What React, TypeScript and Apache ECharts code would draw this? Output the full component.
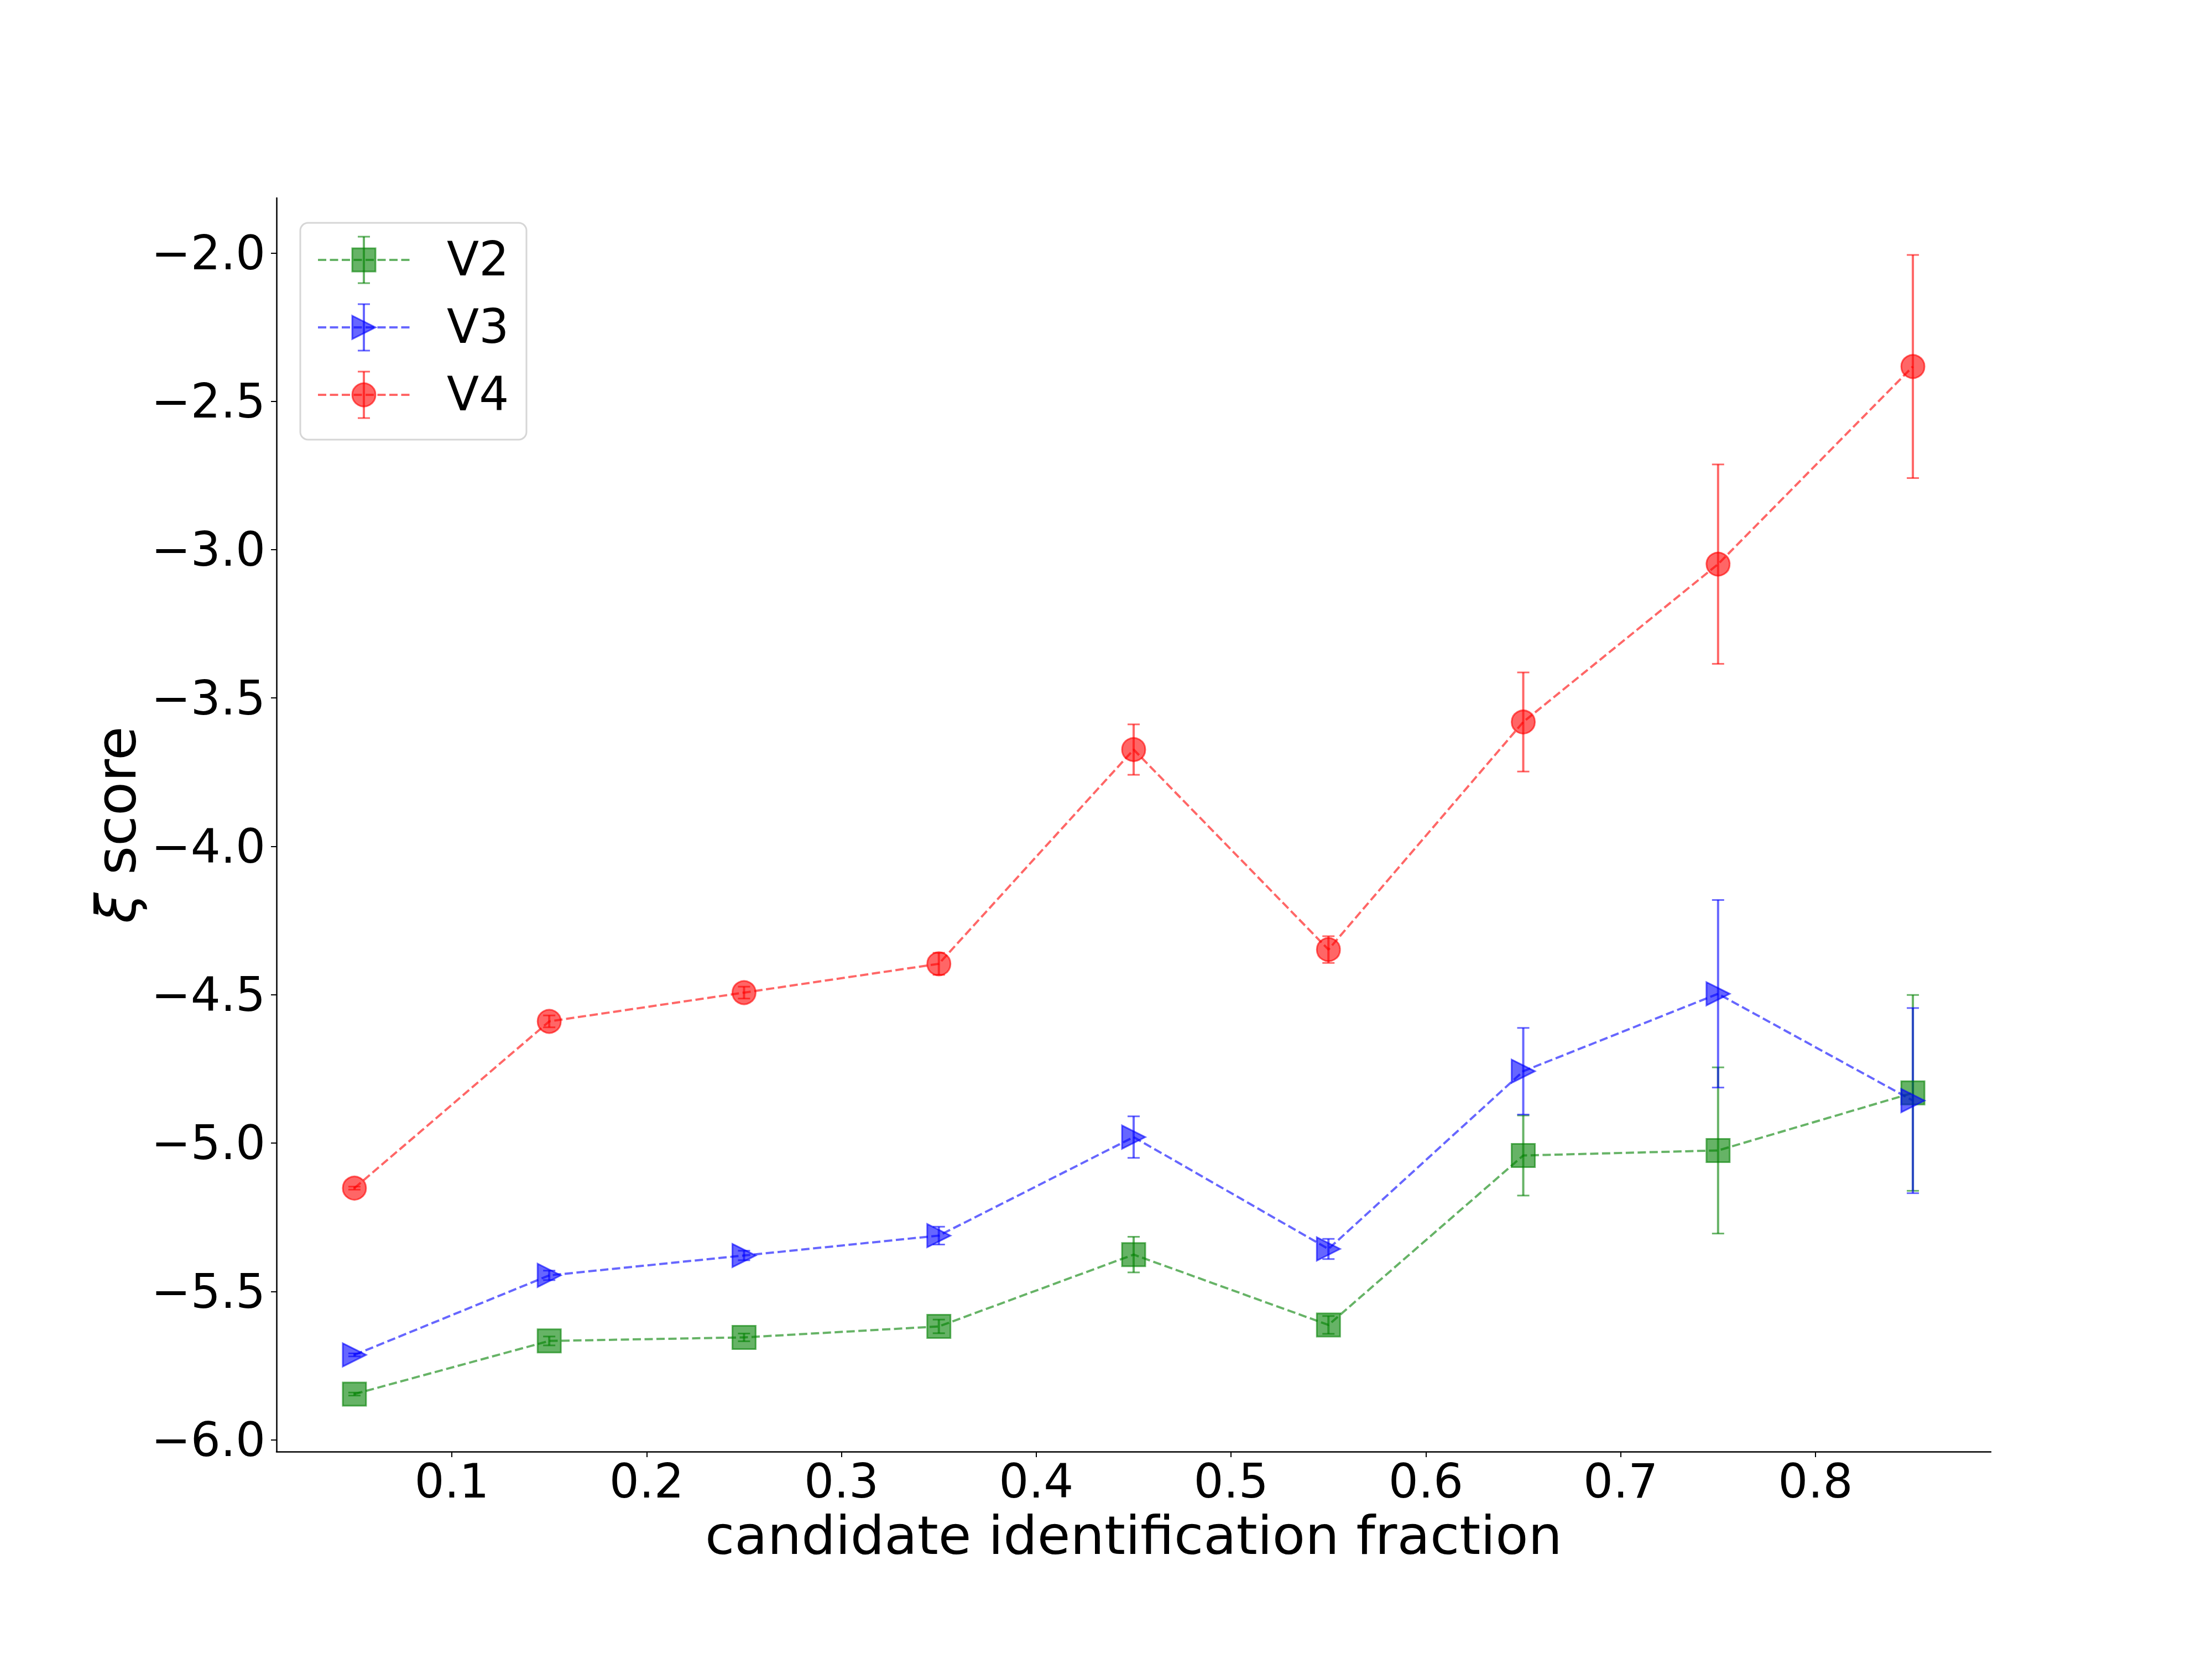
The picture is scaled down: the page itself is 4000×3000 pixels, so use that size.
import React, { useEffect, useRef } from "react";
import * as echarts from "echarts";

const xs = [0.05, 0.15, 0.25, 0.35, 0.45, 0.55, 0.65, 0.75, 0.85];
const v2 = [-5.846, -5.667, -5.655, -5.618, -5.376, -5.613, -5.042, -5.025, -4.831];
const v2Err = [0.005, 0.015, 0.013, 0.023, 0.06, 0.03, 0.135, 0.28, 0.33];
const v3 = [-5.714, -5.446, -5.379, -5.312, -4.98, -5.357, -4.758, -4.497, -4.857];
const v3Err = [0.005, 0.016, 0.016, 0.03, 0.07, 0.034, 0.146, 0.316, 0.312];
const v4 = [-5.152, -4.59, -4.493, -4.396, -3.674, -4.348, -3.581, -3.049, -2.383];
const v4Err = [0.005, 0.02, 0.02, 0.037, 0.085, 0.045, 0.167, 0.336, 0.376];

const seriesNames = ["V2", "V3", "V4"];
const xTicks = [0.1, 0.2, 0.3, 0.4, 0.5, 0.6, 0.7, 0.8];
const yTicks = [-6.0, -5.5, -5.0, -4.5, -4.0, -3.5, -3.0, -2.5, -2.0];

const FONT = '"DejaVu Sans", sans-serif';

const seriesDefs = [
  { name: seriesNames[0], values: v2, errs: v2Err, rgb: "0,128,0", symbol: "rect", rotate: 0 },
  { name: seriesNames[1], values: v3, errs: v3Err, rgb: "0,0,255", symbol: "triangle", rotate: -90 },
  { name: seriesNames[2], values: v4, errs: v4Err, rgb: "255,0,0", symbol: "circle", rotate: 0 },
];

const MS = 42;
const LW = 4;
const DASH = [15, 6.5];

function buildOption() {
  const series: any[] = [];
  seriesDefs.forEach((d) => {
    const col = `rgba(${d.rgb},0.6)`;
    series.push({
      type: "line",
      name: d.name,
      data: xs.map((x, i) => [x, d.values[i]]),
      symbol: d.symbol,
      symbolSize: MS,
      symbolRotate: d.rotate,
      showSymbol: true,
      showAllSymbol: true,
      lineStyle: { color: col, width: LW, type: DASH },
      itemStyle: { color: col, borderColor: col, borderWidth: 3, opacity: 1 },
      emphasis: { disabled: true },
    });
    series.push({
      type: "custom",
      name: d.name + "-err",
      data: xs.map((x, i) => [x, d.values[i] - d.errs[i], d.values[i] + d.errs[i]]),
      encode: { x: 0, y: [1, 2] },
      renderItem: (params: any, api: any) => {
        const x = api.value(0);
        const lo = api.value(1);
        const hi = api.value(2);
        const pt = api.coord([x, hi]);
        const pb = api.coord([x, lo]);
        const st = { stroke: col, lineWidth: LW };
        const cw = 11;
        return {
          type: "group",
          children: [
            { type: "line", shape: { x1: pt[0], y1: pt[1], x2: pb[0], y2: pb[1] }, style: st },
            { type: "line", shape: { x1: pt[0] - cw, y1: pt[1], x2: pt[0] + cw, y2: pt[1] }, style: { stroke: col, lineWidth: 3 } },
            { type: "line", shape: { x1: pb[0] - cw, y1: pb[1], x2: pb[0] + cw, y2: pb[1] }, style: { stroke: col, lineWidth: 3 } },
          ],
        };
      },
    });
  });

  // legend drawn with graphic elements
  const lg: any[] = [];
  lg.push({
    type: "rect",
    shape: { x: 543, y: 403, width: 409, height: 392, r: 14 },
    style: { fill: "rgba(255,255,255,0.8)", stroke: "#d6d6d6", lineWidth: 3 },
    z: 100,
  });
  seriesDefs.forEach((d, i) => {
    const cy = 470 + 122 * i;
    const cx = 658;
    const col = `rgba(${d.rgb},0.6)`;
    lg.push({ type: "line", shape: { x1: 575, y1: cy, x2: 742, y2: cy }, style: { stroke: col, lineWidth: LW, lineDash: DASH }, z: 101 });
    lg.push({ type: "line", shape: { x1: cx, y1: cy - 42, x2: cx, y2: cy + 42 }, style: { stroke: col, lineWidth: LW }, z: 101 });
    lg.push({ type: "line", shape: { x1: cx - 11, y1: cy - 42, x2: cx + 11, y2: cy - 42 }, style: { stroke: col, lineWidth: 3 }, z: 101 });
    lg.push({ type: "line", shape: { x1: cx - 11, y1: cy + 42, x2: cx + 11, y2: cy + 42 }, style: { stroke: col, lineWidth: 3 }, z: 101 });
    const h = MS / 2;
    const mstyle = { fill: col, stroke: col, lineWidth: 3 };
    if (d.symbol === "rect") {
      lg.push({ type: "rect", shape: { x: cx - h, y: cy - h, width: MS, height: MS }, style: mstyle, z: 102 });
    } else if (d.symbol === "circle") {
      lg.push({ type: "circle", shape: { cx, cy, r: h }, style: mstyle, z: 102 });
    } else {
      lg.push({ type: "polygon", shape: { points: [[cx - h, cy - h], [cx + h, cy], [cx - h, cy + h]] }, style: mstyle, z: 102 });
    }
    lg.push({
      type: "text",
      x: 808,
      y: cy - 2,
      style: { text: d.name, font: `85px ${FONT}`, fill: "#000", align: "left", verticalAlign: "middle" },
      z: 103,
    });
  });

  return {
    animation: false,
    backgroundColor: "#ffffff",
    grid: { left: 500, right: 400, top: 358, bottom: 375, containLabel: false },
    xAxis: {
      type: "value",
      min: 0.01,
      max: 0.89,
      axisLine: { show: true, onZero: false, lineStyle: { color: "#000", width: 2.5 } },
      axisTick: { show: true, customValues: xTicks, length: 10, lineStyle: { color: "#000", width: 2 } },
      axisLabel: {
        customValues: xTicks,
        formatter: (v: number) => v.toFixed(1),
        fontSize: 85,
        fontFamily: FONT,
        color: "#000",
        margin: 11,
      },
      splitLine: { show: false },
      name: "candidate identification fraction",
      nameLocation: "middle",
      nameGap: 103,
      nameTextStyle: { fontSize: 97, fontFamily: FONT, color: "#000" },
    },
    yAxis: {
      type: "value",
      min: -6.04,
      max: -1.815,
      axisLine: { show: true, onZero: false, lineStyle: { color: "#000", width: 2.5 } },
      axisTick: { show: true, customValues: yTicks, length: 10, lineStyle: { color: "#000", width: 2 } },
      axisLabel: {
        customValues: yTicks,
        formatter: (v: number) => (v < 0 ? "\u2212" : "") + Math.abs(v).toFixed(1),
        fontSize: 85,
        fontFamily: FONT,
        color: "#000",
        margin: 20,
      },
      splitLine: { show: false },
      name: "{g|ξ} score",
      nameLocation: "middle",
      nameGap: 240,
      nameRotate: 90,
      nameTextStyle: {
        fontSize: 100,
        fontFamily: FONT,
        color: "#000",
        rich: { g: { fontStyle: "italic", fontSize: 100, fontFamily: FONT, color: "#000" } },
      },
    },
    series,
    graphic: { elements: lg },
  };
}

export default function App() {
  const ref = useRef<HTMLDivElement>(null);
  useEffect(() => {
    if (!ref.current) return;
    const chart = echarts.init(ref.current, undefined, { renderer: "svg" });
    chart.setOption(buildOption() as any);
    return () => chart.dispose();
  }, []);
  return (
    <div
      ref={ref}
      style={{ position: "absolute", left: 0, top: 0, width: 4000, height: 3000, background: "#fff" }}
    />
  );
}
